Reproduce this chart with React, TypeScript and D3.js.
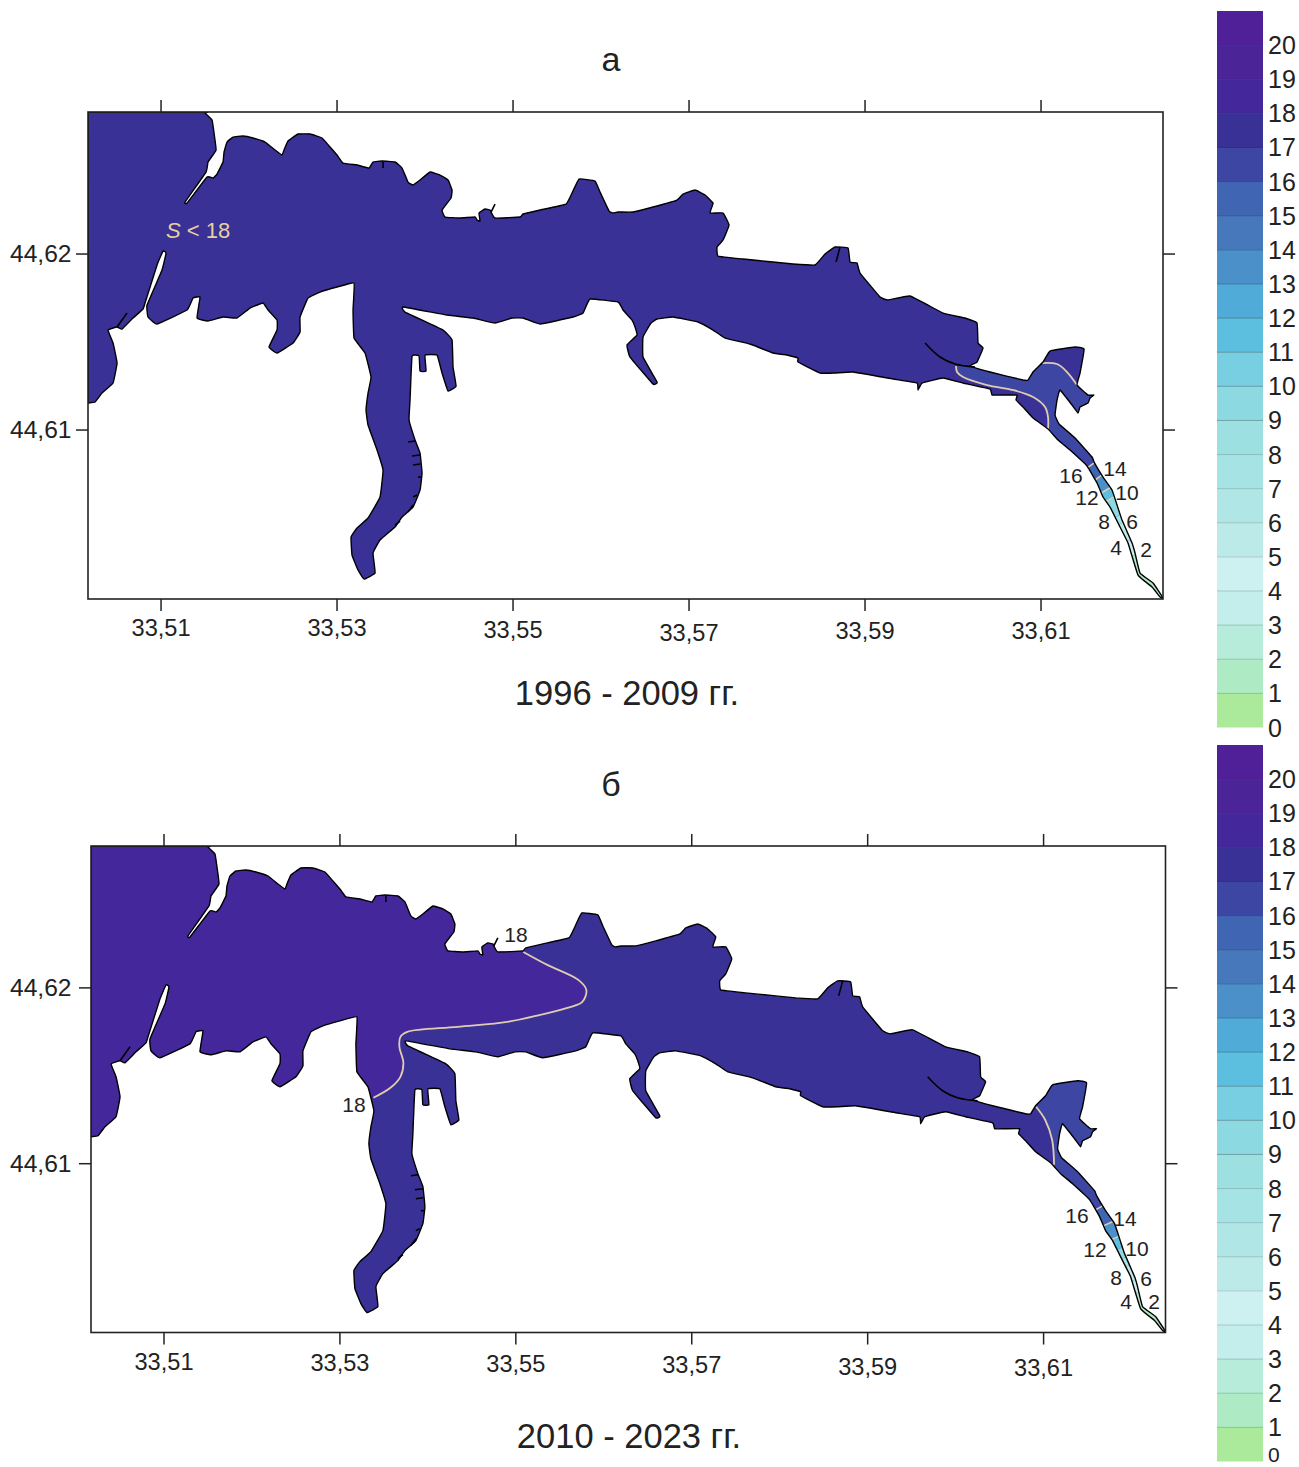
import * as d3 from "d3";

// digitising grid: the coast was traced on a grid where 176 steps = one tick interval
const GRID_COL_33_51 = 161;
const GRID_ROW_44_62 = 254;
const lonOf = (col: number) => 33.51 + ((col - GRID_COL_33_51) * 0.02) / 176;
const latOf = (row: number) => 44.62 - ((row - GRID_ROW_44_62) * 0.01) / 176;

const LON_TICKS = [33.51, 33.53, 33.55, 33.57, 33.59, 33.61];
const LAT_TICKS = [44.62, 44.61];
const LON_DOMAIN = [33.5017, 33.62386];
const LAT_DOMAIN = [44.6004, 44.62807];
const LEGEND_VALUES = d3.range(0, 21);
const LEGEND_COLORS = [
  "#abea9b", "#aeebc5", "#b7ebda", "#c4eeeb", "#cdf1f1", "#bceae9", "#b1e6e6",
  "#a6e3e4", "#9ce0e2", "#8cd9e2", "#79cfe2", "#5cbfe0", "#51abd9", "#4b90c9",
  "#4678bb", "#4065b3", "#3d47a3", "#3a3196", "#44279a", "#4b2497", "#4f2097",
];
const salinityColor = d3.scaleThreshold<number, string>().domain(d3.range(1, 21)).range(LEGEND_COLORS);

const COAST_NORTH = [
  [88, 112], [88, 112], [205, 112], [205, 113], [212, 120], [214, 133], [216, 150], [208, 162], [206, 172], [185, 202], [187, 203],
  [207, 177], [213, 178], [217, 174], [223, 162], [224, 152], [227, 142], [233, 137], [243, 136], [253, 138],
  [265, 142], [275, 150], [282, 155], [284, 150], [288, 141], [298, 134], [310, 134], [322, 138], [330, 147],
  [337, 155], [343, 163], [357, 165], [369, 168], [373, 162], [382, 161], [395, 162], [402, 168], [408, 182],
  [413, 185], [420, 180], [430, 172], [440, 175], [448, 180], [452, 190], [451, 198], [442, 210], [445, 217],
  [460, 218], [475, 217], [477, 220], [480, 221], [479, 213], [485, 209], [490, 210], [491, 212], [495, 218],
  [520, 217], [523, 214], [540, 210], [566, 204], [572, 193], [579, 179], [595, 181], [600, 192], [609, 211],
  [613, 213], [618, 212], [633, 212], [653, 207], [677, 200], [683, 194], [695, 190], [705, 195], [713, 203],
  [710, 213], [723, 213], [729, 225], [723, 240], [717, 247], [718, 256], [743, 259], [773, 262], [793, 264],
  [815, 265], [825, 254], [835, 247], [848, 248], [850, 262], [857, 263], [860, 273], [880, 297], [888, 300],
  [910, 296], [943, 313], [965, 318], [977, 323], [978, 343], [983, 348], [977, 362], [970, 366], [990, 372],
  [1023, 380], [1028, 380], [1033, 372], [1043, 362], [1050, 351], [1075, 347], [1084, 349], [1080, 373],
  [1077, 385], [1088, 395], [1094, 395], [1090, 398], [1088, 403], [1080, 407], [1078, 413], [1072, 405],
  [1060, 390], [1057, 400], [1055, 415], [1059, 424], [1075, 438], [1092, 457], [1094, 462], [1103, 477],
  [1112, 490], [1118, 508], [1122, 520], [1132, 543], [1135, 553], [1140, 573], [1153, 583], [1163, 598],
];
const COAST_SOUTH = [
  [1160, 597], [1152, 587], [1138, 575], [1128, 543], [1120, 527], [1110, 507], [1103, 497], [1097, 483],
  [1087, 466], [1070, 450], [1058, 440], [1048, 429], [1033, 418], [1023, 407], [1016, 400], [1017, 395],
  [1003, 395], [992, 395], [990, 389], [963, 383], [943, 378], [922, 383], [918, 390], [917, 383], [893, 379],
  [853, 372], [835, 373], [820, 373], [798, 362], [798, 358], [787, 355], [773, 353], [750, 344], [725, 338],
  [713, 330], [698, 322], [673, 317], [657, 319], [651, 323], [643, 337], [643, 357], [657, 382], [653, 384],
  [630, 357], [627, 345], [637, 335], [635, 327], [632, 320], [623, 310], [618, 302], [590, 299], [583, 313],
  [573, 317], [540, 324], [523, 318], [512, 318], [495, 323], [473, 318], [447, 315], [403, 307],
];
const COAST_ARM = [
  [405, 312], [443, 330], [452, 340], [453, 367], [456, 386], [448, 391], [442, 373], [437, 355], [425, 355],
  [426, 371], [420, 371], [419, 356], [412, 356], [410, 400], [409, 420], [415, 440], [420, 453], [422, 473],
  [420, 490], [413, 507], [402, 517], [395, 527], [380, 540], [373, 553], [375, 573], [364, 579], [358, 570],
  [352, 555], [351, 537], [357, 528], [368, 518], [380, 497], [383, 470], [377, 450], [368, 425], [366, 410],
  [368, 393], [371, 377], [365, 353], [354, 338], [353, 310], [354, 283],
];
const COAST_WEST = [
  [337, 287], [320, 292], [308, 298], [300, 317], [300, 332], [293, 343], [277, 353], [269, 347], [277, 330],
  [277, 320], [268, 310], [263, 303], [250, 308], [237, 318], [223, 317], [208, 321], [197, 318], [200, 297],
  [193, 298], [187, 310], [157, 324], [148, 317], [147, 305], [162, 270], [166, 253], [163, 251], [157, 265],
  [145, 303], [143, 309], [133, 318], [122, 329], [117, 327], [108, 330], [113, 343], [117, 363], [113, 383],
  [102, 393], [95, 402], [88, 403], [88, 403],
];
const COAST = [...COAST_NORTH, ...COAST_SOUTH, ...COAST_ARM, ...COAST_WEST];

// black strokes inside the water: piers and jetties
const PIERS = [
  [[925, 343], [940, 357], [955, 364], [975, 367]],
  [[117, 327], [127, 313]],
  [[495, 204], [491, 212]],
  [[383, 162], [383, 168]],
  [[840, 247], [836, 262]],
  [[408, 442], [415, 441]],
  [[412, 456], [420, 455]],
  [[413, 465], [420, 464]],
  [[418, 477], [422, 477]],
  [[413, 497], [417, 495]],
  [[408, 512], [413, 505]],
  [[395, 525], [400, 521]],
];

// panel a: isohaline 17 in the bay, two branches
const A_CONTOUR_CHANNEL = [
  [956, 366], [957, 372], [963, 377], [987, 385], [1013, 390], [1033, 397], [1045, 407], [1048, 417], [1048, 429],
];
const A_CONTOUR_BAY = [[1042, 363], [1057, 364], [1067, 372], [1077, 385]];
const A_ZONE_16_TAIL = [
  [1048, 436], [1080, 474], [1104, 455], [1110, 395], [1085, 380], [1077, 385], [1067, 372], [1057, 364], [1042, 363],
  [1030, 372], [1023, 377], [990, 369], [970, 366],
];
const A_CROSS = [
  { s: 16, a: [1084, 470], b: [1098, 460] },
  { s: 14, a: [1092, 482], b: [1106, 472] },
  { s: 12, a: [1098, 495], b: [1116, 484] },
  { s: 10, a: [1103, 503], b: [1121, 493] },
  { s: 8, a: [1108, 522], b: [1128, 510] },
  { s: 6, a: [1112, 528], b: [1132, 518] },
  { s: 4, a: [1120, 545], b: [1140, 535] },
  { s: 2, a: [1125, 560], b: [1145, 550] },
  { s: 0, a: [1150, 605], b: [1175, 590] },
];

// panel b: isohaline 18 in the main bay and 17 in the upper bay
const B_CONTOUR_18 = [
  [520.5, 218], [544.5, 231], [575.5, 246], [583.5, 256], [579.5, 268], [564.5, 274], [537.5, 281], [504.5, 288],
  [454.5, 293], [404.5, 298], [397.5, 303], [396.5, 313], [400.5, 329], [397.5, 343], [387.5, 354], [370.5, 364],
];
const B_ZONE_18_TAIL = [[340, 364], [60, 470], [60, 60], [520.5, 60]];
const B_CONTOUR_17 = [[1033.5, 373], [1042.5, 386], [1049.5, 406], [1051.5, 431]];
const B_ZONE_16_TAIL = [[1051, 438], [1085, 482], [1110, 466], [1112, 390], [1090, 335], [1050, 335], [1033, 365]];
const B_CROSS = [
  { s: 16, a: [1088, 479], b: [1104, 470] },
  { s: 14, a: [1097, 494], b: [1112, 487] },
  { s: 12, a: [1104, 508], b: [1120, 501] },
  { s: 10, a: [1106, 520], b: [1124, 512] },
  { s: 8, a: [1110, 530], b: [1130, 520] },
  { s: 6, a: [1114, 538], b: [1134, 528] },
  { s: 4, a: [1120, 552], b: [1142, 542] },
  { s: 2, a: [1126, 564], b: [1146, 552] },
  { s: 0, a: [1150, 605], b: [1175, 590] },
];

const A_LABELS = [
  ["16", 1071, 475], ["14", 1115, 468], ["12", 1087, 497], ["10", 1127, 492],
  ["8", 1104, 521], ["6", 1132, 521], ["4", 1116, 547], ["2", 1146, 549],
];
const B_LABELS = [
  ["16", 1077, 1215], ["14", 1125, 1218], ["12", 1095, 1249], ["10", 1137, 1248],
  ["8", 1116, 1277], ["6", 1146, 1278], ["4", 1126, 1301], ["2", 1154, 1301],
  ["18", 516, 934], ["18", 354, 1104],
];
const A_LON_NUDGE = [0, 0, 2, 5, 3, 3];
const B_LON_NUDGE = [0, 1, 2, 3, 5, 6];

const FONT = "'Liberation Sans', Arial, sans-serif";
const INK = "#222";
const ISOLINE = "#e0cdb0";

type Pt = number[];

function Panel({ id, left, right, top, bottom, lonNudge, children }: any) {
  const x = d3.scaleLinear().domain(LON_DOMAIN).range([left, right]);
  const y = d3.scaleLinear().domain(LAT_DOMAIN).range([bottom, top]);
  const gridLine = d3.line<Pt>().x((d) => x(lonOf(d[0]))).y((d) => y(latOf(d[1])));
  const toPath = (pts: Pt[]) => gridLine.curve(d3.curveLinear)(pts) as string;
  const smoothPath = (pts: Pt[]) => gridLine.curve(d3.curveCatmullRom.alpha(0.5))(pts) as string;
  // tight spline: corners of the shore stay sharp but lose the polygon look
  const coastPath = (gridLine.curve(d3.curveCardinal.tension(0.72))(COAST) as string) + "Z";
  return (
    <g>
      <defs>
        <clipPath id={id + "-coast"}>
          <path d={coastPath} />
        </clipPath>
        <clipPath id={id + "-frame"}>
          <rect x={left} y={top} width={right - left} height={bottom - top} />
        </clipPath>
      </defs>
      <g clipPath={`url(#${id}-frame)`}>
        <path d={coastPath} fill={salinityColor(17)} />
        <g clipPath={`url(#${id}-coast)`}>{children({ toPath, smoothPath })}</g>
        <path d={coastPath} fill="none" stroke="#000" strokeWidth={1.4} strokeLinejoin="round" />
        {PIERS.map((p, i) => (
          <path key={i} d={i === 0 ? smoothPath(p) : toPath(p)} fill="none" stroke="#000" strokeWidth={1.6} />
        ))}
      </g>
      <rect x={left} y={top} width={right - left} height={bottom - top} fill="none" stroke={INK} strokeWidth={1.6} />
      {LON_TICKS.map((t, i) => (
        <g key={t}>
          <line x1={x(t)} x2={x(t)} y1={top} y2={top - 12} stroke={INK} strokeWidth={1.5} />
          <line x1={x(t)} x2={x(t)} y1={bottom} y2={bottom + 12} stroke={INK} strokeWidth={1.5} />
          <text x={x(t)} y={bottom + 37 + lonNudge[i]} textAnchor="middle" fontSize={23.6} fill={INK}>
            {t.toFixed(2).replace(".", ",")}
          </text>
        </g>
      ))}
      {LAT_TICKS.map((t) => (
        <g key={t}>
          <line x1={left} x2={left - 12} y1={y(t)} y2={y(t)} stroke={INK} strokeWidth={1.5} />
          <line x1={right} x2={right + 12} y1={y(t)} y2={y(t)} stroke={INK} strokeWidth={1.5} />
          <text x={10} y={y(t) + 8} fontSize={24.6} fill={INK}>
            {t.toFixed(2).replace(".", ",")}
          </text>
        </g>
      ))}
    </g>
  );
}

function Bands({ cross, toPath, draw }: any) {
  return (
    <g>
      {cross.slice(0, -1).map((c: any, i: number) => {
        const n = cross[i + 1];
        const val = c.s - 1;
        return <path key={c.s} d={toPath([c.a, c.b, n.b, n.a]) + "Z"} fill={salinityColor(val)} />;
      })}
      {cross
        .filter((c: any) => c.s >= draw)
        .map((c: any) => (
          <path key={c.s} d={toPath([c.a, c.b])} stroke={ISOLINE} strokeWidth={1.6} fill="none" />
        ))}
    </g>
  );
}

function Legend({ top, bottom }: { top: number; bottom: number }) {
  const y = d3.scaleLinear().domain([0, 21]).range([bottom, top]);
  return (
    <g>
      {LEGEND_COLORS.map((c, i) => (
        <rect key={i} x={1217} y={y(i + 1)} width={46} height={y(i) - y(i + 1)} fill={c} />
      ))}
      {LEGEND_VALUES.map((v) => {
        // the lowest label of the lower legend sits at the page edge, so it is set smaller
        const atEdge = y(v) + 9 > 1462;
        return (
          <g key={v}>
            {v > 0 && (
              <line
                x1={1217}
                x2={1263}
                y1={y(v)}
                y2={y(v)}
                stroke={d3.color(salinityColor(v - 1))!.darker(v > 17 ? 0.15 : v > 8 ? 0.9 : 0.5).formatHex()}
                strokeWidth={1}
              />
            )}
            <text x={1268} y={atEdge ? 1462 : y(v) + 9} fontSize={atEdge ? 21 : 25} fill={INK}>
              {v}
            </text>
          </g>
        );
      })}
    </g>
  );
}

export default function App() {
  return (
    <svg
      width={1299}
      height={1467}
      viewBox="0 0 1299 1467"
      style={{ position: "absolute", left: 0, top: 0, display: "block", background: "#fff" }}
      fontFamily={FONT}
    >
      <text x={611} y={71} textAnchor="middle" fontSize={34} fill={INK}>а</text>
      <text x={627} y={705} textAnchor="middle" fontSize={34.5} fill={INK}>1996 - 2009 гг.</text>
      <text x={611} y={796} textAnchor="middle" fontSize={34} fill={INK}>б</text>
      <text x={629} y={1448} textAnchor="middle" fontSize={34.5} fill={INK}>2010 - 2023 гг.</text>

      <Panel id="a" left={88} right={1163} top={112} bottom={599} lonNudge={A_LON_NUDGE}>
        {({ toPath, smoothPath }: any) => (
          <g>
            <path
              d={smoothPath(A_CONTOUR_CHANNEL) + toPath(A_ZONE_16_TAIL).replace("M", "L") + "Z"}
              fill={salinityColor(16)}
            />
            <Bands cross={A_CROSS} toPath={toPath} draw={10} />
            <path d={smoothPath(A_CONTOUR_CHANNEL)} fill="none" stroke={ISOLINE} strokeWidth={1.8} />
            <path d={smoothPath(A_CONTOUR_BAY)} fill="none" stroke={ISOLINE} strokeWidth={1.8} />
          </g>
        )}
      </Panel>
      <text x={166} y={238} fontSize={22} fill="#e8cfa0">
        <tspan fontStyle="italic">S</tspan> {"< 18"}
      </text>

      <Panel id="b" left={91} right={1165.5} top={846} bottom={1332.5} lonNudge={B_LON_NUDGE}>
        {({ toPath, smoothPath }: any) => (
          <g>
            <path
              d={smoothPath(B_CONTOUR_18) + toPath(B_ZONE_18_TAIL).replace("M", "L") + "Z"}
              fill={salinityColor(18.5)}
            />
            <path
              d={smoothPath(B_CONTOUR_17) + toPath(B_ZONE_16_TAIL).replace("M", "L") + "Z"}
              fill={salinityColor(16)}
            />
            <Bands cross={B_CROSS} toPath={toPath} draw={12} />
            <path d={smoothPath(B_CONTOUR_18)} fill="none" stroke={ISOLINE} strokeWidth={1.8} />
            <path d={smoothPath(B_CONTOUR_17)} fill="none" stroke={ISOLINE} strokeWidth={1.8} />
          </g>
        )}
      </Panel>

      {[...A_LABELS, ...B_LABELS].map(([t, px, py], i) => (
        <text key={i} x={px as number} y={(py as number) + 7.5} textAnchor="middle" fontSize={21} fill={INK}>
          {t}
        </text>
      ))}

      <Legend top={11} bottom={727.5} />
      <Legend top={745} bottom={1461.5} />
    </svg>
  );
}
